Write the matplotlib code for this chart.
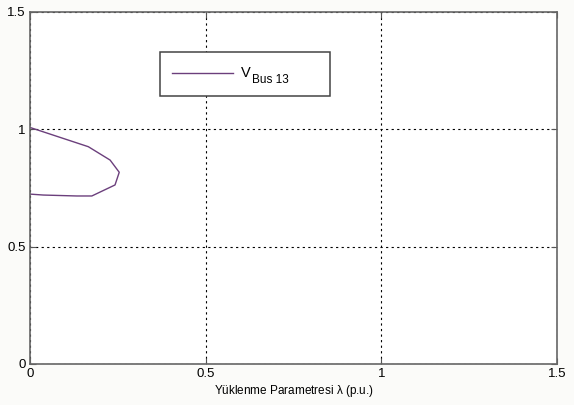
import matplotlib
matplotlib.use("Agg")
import matplotlib.pyplot as plt
from matplotlib.lines import Line2D
from matplotlib.patches import Rectangle

plt.rcParams['font.family'] = ['Liberation Sans', 'DejaVu Sans']
plt.rcParams['mathtext.fontset'] = 'custom'
plt.rcParams['mathtext.rm'] = 'Liberation Sans'
plt.rcParams['mathtext.it'] = 'Liberation Sans'

# PV curve of bus 13 (loading parameter vs voltage)
lam = [0.0, 0.166, 0.228, 0.254, 0.242, 0.176, 0.133, 0.038, 0.0]
v_bus13 = [1.008, 0.926, 0.869, 0.817, 0.763, 0.716, 0.716, 0.72, 0.724]

ticks = [0, 0.5, 1, 1.5]
tick_labels = ['0', '0.5', '1', '1.5']

W, H = 574, 405
line_color = '#6b3f7c'

fig = plt.figure(figsize=(W / 100, H / 100), dpi=100)
fig.patch.set_facecolor('#fbfbf9')
ax = fig.add_axes([30 / W, 41 / H, 527 / W, 352 / H])
ax.set_facecolor('white')

ax.plot(lam, v_bus13, color=line_color, lw=1.0)

ax.set_xlim(0, 1.5)
ax.set_ylim(0, 1.5)
ax.set_xticks(ticks)
ax.set_xticklabels(tick_labels)
ax.set_yticks(ticks)
ax.set_yticklabels(tick_labels)
ax.tick_params(direction='in', length=4, width=0.8, colors='#555555',
               labelcolor='black', labelsize=9.5, top=True, right=True, pad=3)
for s in ax.spines.values():
    s.set_color('#666666')
    s.set_linewidth(1.2)
ax.grid(True, color='black', linestyle=(0, (2, 3)), linewidth=0.8)

ax.set_xlabel(r'Yüklenme Parametresi $\lambda$ (p.u.)', fontsize=8.5, labelpad=2)


# legend box drawn by hand (pixel positions -> figure fraction)
def fx(px):
    return px / W


def fy(py):
    return 1 - py / H


box = Rectangle((fx(160), fy(96)), fx(330) - fx(160), fy(52) - fy(96),
                transform=fig.transFigure, facecolor='white',
                edgecolor='#444444', linewidth=1.1, zorder=5)
fig.add_artist(box)
fig.add_artist(Line2D([fx(172), fx(233)], [fy(73), fy(73)],
                      transform=fig.transFigure, color=line_color, lw=1.0, zorder=6))
fig.text(fx(241), fy(73), 'V', fontsize=10.5, va='center', ha='left', zorder=6)
fig.text(fx(251.5), fy(80), 'Bus 13', fontsize=8.5, va='center', ha='left', zorder=6)

fig.savefig('out.png', dpi=100, facecolor=fig.get_facecolor())
